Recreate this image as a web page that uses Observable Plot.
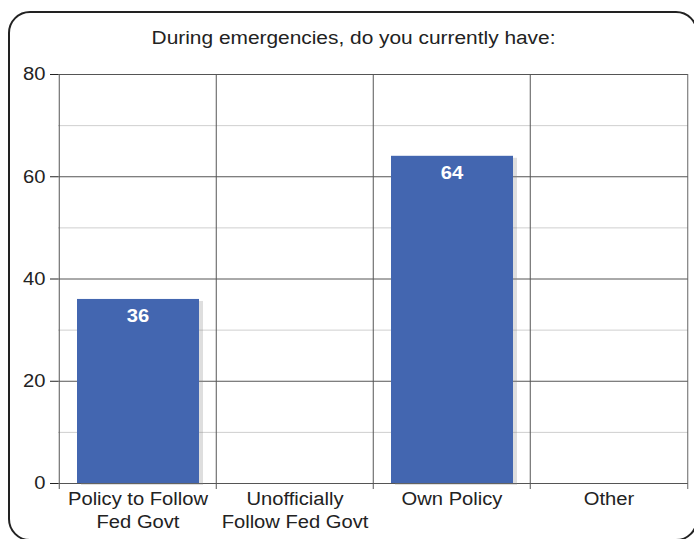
<!DOCTYPE html>
<html>
<head>
<meta charset="utf-8">
<script src="https://cdn.jsdelivr.net/npm/d3@7"></script>
<script src="https://cdn.jsdelivr.net/npm/@observablehq/plot@0.6"></script>
<style>
  html, body { margin: 0; padding: 0; background: #fff; }
  #wrap { position: relative; width: 694px; height: 539px; overflow: hidden; font-family: "Liberation Sans", Arial, sans-serif; }
  #frame { position: absolute; left: 8px; top: 11px; width: 690px; height: 530px; box-sizing: border-box; border: 2px solid #222; border-radius: 22px; }
  #title { position: absolute; left: 14px; top: 28px; width: 680px; text-align: center; font-size: 18px; color: #222; transform: scaleX(1.16); transform-origin: 343px 50%; }
  #chart { position: absolute; left: 0; top: 60px; }
</style>
</head>
<body>
<div id="wrap">
  <div id="frame"></div>
  <div id="title">During emergencies, do you currently have:</div>
  <div id="chart"></div>
</div>
<script>
const titleText = "During emergencies, do you currently have:";
const categories = ["Policy to Follow Fed Govt", "Unofficially Follow Fed Govt", "Own Policy", "Other"];
const labelLine1 = ["Policy to Follow", "Unofficially", "Own Policy", "Other"];
const labelLine2 = ["Fed Govt", "Follow Fed Govt", "", ""];
const values = [36, 0, 64, 0];
const majorTicks = [0, 20, 40, 60, 80];
const minorTicks = [10, 30, 50, 70];

document.getElementById("title").textContent = titleText;

const data = categories.map((c, i) => ({cat: c, value: values[i], l1: labelLine1[i], l2: labelLine2[i]}));

const W = 694, H = 479, mL = 58, mR = 6, mT = 14, mB = 56;
const step = (W - mL - mR) / categories.length;
const font = "Liberation Sans, Arial, sans-serif";

const chart = Plot.plot({
  width: W,
  height: H,
  marginLeft: mL,
  marginRight: mR,
  marginTop: mT,
  marginBottom: mB,
  style: {fontFamily: font, fontSize: "18px", color: "#222", background: "transparent", overflow: "visible"},
  x: {domain: categories, padding: 0, axis: null},
  y: {domain: [0, 80], ticks: majorTicks, tickSize: 8, tickPadding: 5, label: null},
  marks: [
    Plot.ruleY(minorTicks, {stroke: "#cfcfcf", strokeWidth: 1}),
    Plot.ruleY(majorTicks, {stroke: "#555", strokeWidth: 1}),
    Plot.ruleX(categories, {x: d => d, dx: -step / 2, stroke: "#555", strokeWidth: 1, insetBottom: -6}),
    Plot.ruleX(categories.slice(-1), {x: d => d, dx: step / 2, stroke: "#666", strokeWidth: 1, insetBottom: -6}),
    Plot.barY(data.filter(d => d.value > 0), {x: "cat", y: "value", fill: "#888", fillOpacity: 0.28, insetLeft: 18, insetRight: 17, dx: 4, dy: 2}),
    Plot.barY(data.filter(d => d.value > 0), {x: "cat", y: "value", fill: "#4366b0", insetLeft: 18, insetRight: 17}),
    Plot.text(data.filter(d => d.value > 0), {x: "cat", y: "value", text: d => String(d.value), dy: 17, fill: "white", fontWeight: "bold", fontSize: 18}),
    Plot.text(data, {x: "cat", y: 0, text: "l1", dy: 16, fill: "#222", fontSize: 18}),
    Plot.text(data, {x: "cat", y: 0, text: "l2", dy: 39, fill: "#222", fontSize: 18})
  ]
});
document.getElementById("chart").appendChild(chart);
// widen glyphs slightly to match the reference's wide rendering
chart.querySelectorAll("text").forEach(t => {
  if (!t.textContent) return;
  const len = t.getComputedTextLength();
  if (len > 0) {
    t.setAttribute("textLength", (len * 1.12).toFixed(2));
    t.setAttribute("lengthAdjust", "spacingAndGlyphs");
  }
});
</script>
</body>
</html>
